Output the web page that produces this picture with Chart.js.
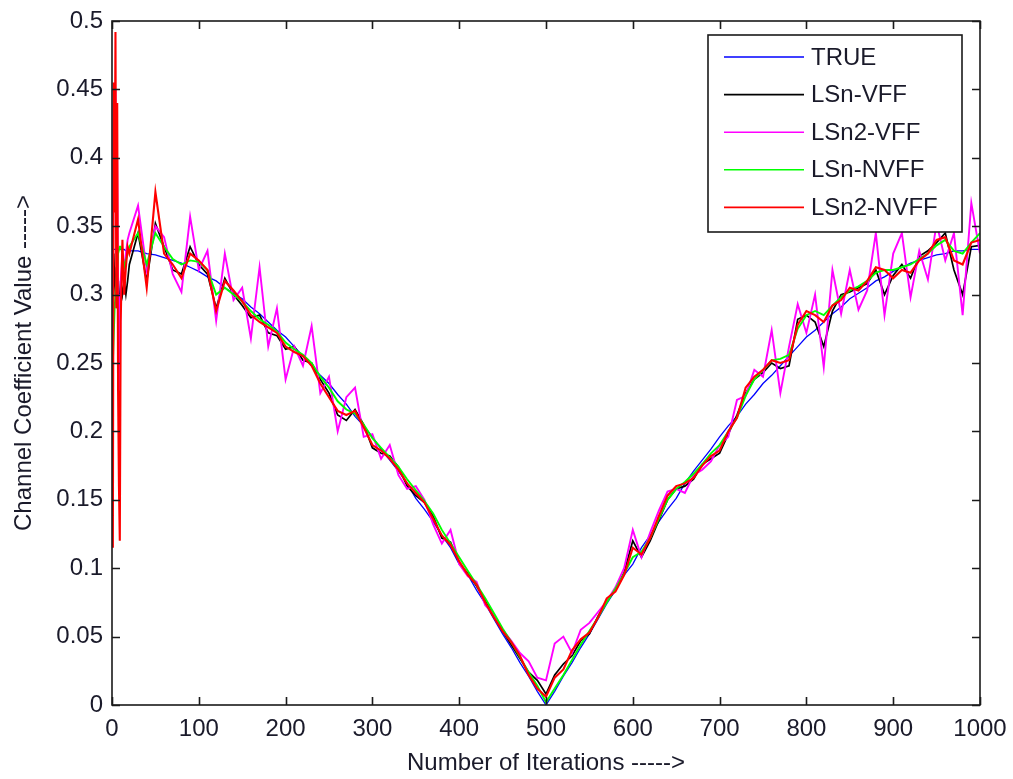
<!DOCTYPE html>
<html>
<head>
<meta charset="utf-8">
<script src="https://cdn.jsdelivr.net/npm/chart.js@4.4.1/dist/chart.umd.min.js"></script>
<style>
  html, body { margin: 0; padding: 0; background: #fff; }
  canvas { display: block; }
</style>
</head>
<body>
<canvas id="coefChart" width="1013" height="779"></canvas>
<script>
// Channel coefficient tracking - TRUE vs four estimators

// ============================================
// DATA
// ============================================

const iterations = [0, 1, 2, 3, 4, 5, 6, 7, 8, 9, 10, 12, 14, 16, 18,
    20, 30, 40, 50, 60, 70, 80, 90, 100,
    110, 120, 130, 140, 150, 160, 170, 180, 190, 200,
    210, 220, 230, 240, 250, 260, 270, 280, 290, 300,
    310, 320, 330, 340, 350, 360, 370, 380, 390, 400,
    410, 420, 430, 440, 450, 460, 470, 480, 490, 500,
    510, 520, 530, 540, 550, 560, 570, 580, 590, 600,
    610, 620, 630, 640, 650, 660, 670, 680, 690, 700,
    710, 720, 730, 740, 750, 760, 770, 780, 790, 800,
    810, 820, 830, 840, 850, 860, 870, 880, 890, 900,
    910, 920, 930, 940, 950, 960, 970, 980, 990, 1000];

const trueValues = [0.333, 0.333, 0.333, 0.333, 0.333, 0.333, 0.333, 0.333, 0.333, 0.333, 0.333, 0.333, 0.333, 0.332, 0.332,
    0.332, 0.332, 0.330, 0.329, 0.327, 0.325, 0.323, 0.320, 0.317,
    0.313, 0.310, 0.305, 0.301, 0.297, 0.291, 0.286, 0.280, 0.274, 0.269,
    0.262, 0.255, 0.248, 0.241, 0.235, 0.227, 0.220, 0.211, 0.204, 0.196,
    0.187, 0.179, 0.171, 0.162, 0.151, 0.143, 0.134, 0.124, 0.115, 0.103,
    0.095, 0.084, 0.074, 0.063, 0.052, 0.042, 0.031, 0.021, 0.010, 0.000,
    0.010, 0.021, 0.031, 0.042, 0.052, 0.063, 0.074, 0.084, 0.095, 0.103,
    0.115, 0.124, 0.134, 0.143, 0.151, 0.162, 0.171, 0.179, 0.187, 0.196,
    0.204, 0.211, 0.220, 0.227, 0.235, 0.241, 0.248, 0.255, 0.262, 0.269,
    0.274, 0.280, 0.286, 0.291, 0.297, 0.301, 0.305, 0.310, 0.313, 0.317,
    0.320, 0.323, 0.325, 0.327, 0.329, 0.330, 0.332, 0.332, 0.333, 0.333];

const lsnVff = [0.25, 0.29, 0.33, 0.31, 0.30, 0.32, 0.29, 0.30, 0.28, 0.30, 0.31, 0.30, 0.31, 0.30, 0.31,
    0.322, 0.345, 0.310, 0.352, 0.335, 0.318, 0.315, 0.335, 0.322,
    0.315, 0.290, 0.312, 0.300, 0.292, 0.283, 0.285, 0.272, 0.270, 0.260,
    0.262, 0.252, 0.250, 0.238, 0.228, 0.212, 0.208, 0.216, 0.205, 0.188,
    0.184, 0.182, 0.174, 0.160, 0.153, 0.148, 0.138, 0.122, 0.119, 0.104,
    0.096, 0.087, 0.076, 0.065, 0.054, 0.044, 0.034, 0.024, 0.018, 0.008,
    0.022, 0.030, 0.036, 0.047, 0.052, 0.065, 0.076, 0.084, 0.097, 0.120,
    0.108, 0.120, 0.135, 0.150, 0.158, 0.160, 0.165, 0.176, 0.180, 0.184,
    0.198, 0.212, 0.228, 0.238, 0.243, 0.250, 0.246, 0.248, 0.282, 0.285,
    0.280, 0.262, 0.288, 0.300, 0.302, 0.305, 0.308, 0.318, 0.300, 0.314,
    0.322, 0.312, 0.328, 0.332, 0.338, 0.345, 0.318, 0.300, 0.335, 0.336];

const lsn2Vff = [0.24, 0.30, 0.44, 0.38, 0.45, 0.33, 0.40, 0.30, 0.26, 0.23, 0.31, 0.33, 0.32, 0.33, 0.34,
    0.345, 0.365, 0.318, 0.350, 0.342, 0.315, 0.302, 0.357, 0.318,
    0.332, 0.281, 0.330, 0.296, 0.305, 0.268, 0.320, 0.262, 0.290, 0.238,
    0.262, 0.248, 0.277, 0.228, 0.240, 0.200, 0.225, 0.232, 0.196, 0.198,
    0.180, 0.190, 0.168, 0.158, 0.160, 0.150, 0.132, 0.118, 0.128, 0.103,
    0.094, 0.090, 0.073, 0.066, 0.055, 0.047, 0.038, 0.032, 0.020, 0.018,
    0.045, 0.050, 0.038, 0.055, 0.060, 0.068, 0.076, 0.086, 0.100, 0.128,
    0.108, 0.126, 0.142, 0.156, 0.158, 0.155, 0.168, 0.172, 0.178, 0.190,
    0.196, 0.223, 0.226, 0.245, 0.240, 0.274, 0.228, 0.262, 0.293, 0.272,
    0.300, 0.247, 0.318, 0.286, 0.318, 0.289, 0.303, 0.345, 0.285, 0.330,
    0.345, 0.298, 0.332, 0.311, 0.352, 0.325, 0.345, 0.285, 0.367, 0.330];

const lsnNvff = [0.23, 0.25, 0.27, 0.29, 0.30, 0.31, 0.32, 0.33, 0.33, 0.335, 0.335, 0.33, 0.32, 0.325, 0.33,
    0.335, 0.345, 0.322, 0.345, 0.335, 0.326, 0.322, 0.325, 0.324,
    0.318, 0.300, 0.305, 0.300, 0.295, 0.288, 0.282, 0.278, 0.273, 0.265,
    0.260, 0.256, 0.250, 0.240, 0.232, 0.222, 0.216, 0.213, 0.205, 0.195,
    0.188, 0.181, 0.174, 0.165, 0.157, 0.149, 0.140, 0.128, 0.118, 0.108,
    0.098, 0.088, 0.078, 0.067, 0.056, 0.046, 0.035, 0.024, 0.014, 0.002,
    0.012, 0.022, 0.033, 0.044, 0.054, 0.064, 0.075, 0.085, 0.096, 0.108,
    0.112, 0.122, 0.136, 0.150, 0.158, 0.163, 0.169, 0.176, 0.184, 0.190,
    0.200, 0.210, 0.226, 0.238, 0.245, 0.252, 0.253, 0.256, 0.275, 0.285,
    0.288, 0.285, 0.292, 0.298, 0.303, 0.306, 0.310, 0.316, 0.318, 0.318,
    0.320, 0.322, 0.326, 0.330, 0.336, 0.340, 0.332, 0.330, 0.338, 0.345];

const lsn2Nvff = [0.23, 0.115, 0.455, 0.36, 0.492, 0.29, 0.44, 0.23, 0.16, 0.12, 0.28, 0.34, 0.30, 0.32, 0.335,
    0.330, 0.355, 0.305, 0.375, 0.330, 0.322, 0.312, 0.330, 0.325,
    0.318, 0.288, 0.310, 0.303, 0.295, 0.285, 0.280, 0.276, 0.272, 0.262,
    0.258, 0.255, 0.248, 0.235, 0.225, 0.215, 0.212, 0.215, 0.203, 0.190,
    0.186, 0.180, 0.172, 0.162, 0.155, 0.148, 0.136, 0.124, 0.117, 0.105,
    0.095, 0.088, 0.075, 0.064, 0.054, 0.046, 0.036, 0.022, 0.012, 0.006,
    0.020, 0.026, 0.040, 0.048, 0.053, 0.064, 0.078, 0.083, 0.095, 0.115,
    0.110, 0.122, 0.138, 0.153, 0.160, 0.162, 0.166, 0.175, 0.182, 0.186,
    0.200, 0.210, 0.232, 0.240, 0.245, 0.252, 0.250, 0.252, 0.278, 0.288,
    0.285, 0.280, 0.292, 0.296, 0.305, 0.303, 0.310, 0.320, 0.318, 0.312,
    0.318, 0.316, 0.325, 0.330, 0.340, 0.342, 0.325, 0.322, 0.338, 0.340];

const seriesLabels = ['TRUE', 'LSn-VFF', 'LSn2-VFF', 'LSn-NVFF', 'LSn2-NVFF'];
const seriesColors = ['#0000ff', '#000000', '#ff00ff', '#00ff00', '#ff0000'];
const seriesWidths = [1.3, 1.7, 1.9, 1.9, 2.1];

const xTickLabels = ['0', '100', '200', '300', '400', '500', '600', '700', '800', '900', '1000'];
const yTickLabels = ['0', '0.05', '0.1', '0.15', '0.2', '0.25', '0.3', '0.35', '0.4', '0.45', '0.5'];

const FONT = '"Liberation Sans", Arial, sans-serif';

// ============================================
// HELPERS
// ============================================

function toPoints(values) {
    return values.map((v, i) => ({ x: iterations[i], y: v }));
}

// MATLAB-like frame: box, inward ticks on all four sides, legend box
const matlabFrame = {
    id: 'matlabFrame',
    afterDatasetsDraw(chart) {
        const ctx = chart.ctx;
        const area = chart.chartArea;
        const xs = chart.scales.x;
        const ys = chart.scales.y;
        const tickLen = 8;

        ctx.save();
        ctx.strokeStyle = '#1a1a1a';
        ctx.lineWidth = 1.6;
        ctx.strokeRect(area.left, area.top, area.right - area.left, area.bottom - area.top);

        ctx.beginPath();
        xs.ticks.forEach(t => {
            const px = Math.round(xs.getPixelForValue(t.value)) + 0.5;
            ctx.moveTo(px, area.bottom);
            ctx.lineTo(px, area.bottom - tickLen);
            ctx.moveTo(px, area.top);
            ctx.lineTo(px, area.top + tickLen);
        });
        ys.ticks.forEach(t => {
            const py = Math.round(ys.getPixelForValue(t.value)) + 0.5;
            ctx.moveTo(area.left, py);
            ctx.lineTo(area.left + tickLen, py);
            ctx.moveTo(area.right, py);
            ctx.lineTo(area.right - tickLen, py);
        });
        ctx.stroke();

        // legend box
        const box = { left: 708, top: 35, width: 254, height: 197 };
        ctx.fillStyle = '#ffffff';
        ctx.fillRect(box.left, box.top, box.width, box.height);
        ctx.strokeStyle = '#1a1a1a';
        ctx.lineWidth = 1.6;
        ctx.strokeRect(box.left, box.top, box.width, box.height);

        ctx.font = '24px ' + FONT;
        ctx.textBaseline = 'middle';
        ctx.textAlign = 'left';
        chart.data.datasets.forEach((ds, i) => {
            const y = 57 + i * 37.6;
            ctx.strokeStyle = ds.borderColor;
            ctx.lineWidth = 1.6;
            ctx.beginPath();
            ctx.moveTo(724, y);
            ctx.lineTo(804, y);
            ctx.stroke();
            ctx.fillStyle = '#1a1a2a';
            ctx.fillText(ds.label, 811, y + 1);
        });
        ctx.restore();
    }
};

// ============================================
// CHART
// ============================================

const valueSets = [trueValues, lsnVff, lsn2Vff, lsnNvff, lsn2Nvff];
const drawOrder = [5, 4, 3, 2, 1];

new Chart(document.getElementById('coefChart').getContext('2d'), {
    type: 'line',
    data: {
        datasets: valueSets.map((vals, i) => ({
            label: seriesLabels[i],
            data: toPoints(vals),
            borderColor: seriesColors[i],
            backgroundColor: seriesColors[i],
            borderWidth: seriesWidths[i],
            pointRadius: 0,
            tension: 0,
            fill: false,
            order: drawOrder[i]
        }))
    },
    options: {
        responsive: false,
        animation: false,
        layout: { padding: { top: 21, right: 33, left: 0, bottom: 0 } },
        plugins: {
            legend: { display: false },
            tooltip: { enabled: false }
        },
        scales: {
            x: {
                type: 'linear',
                min: 0,
                max: 1000,
                afterFit: s => { s.height = 74; s.paddingLeft = 0; s.paddingRight = 0; },
                grid: { display: false, drawTicks: false },
                border: { display: false },
                ticks: {
                    stepSize: 100,
                    padding: 10,
                    color: '#1a1a2a',
                    font: { family: FONT, size: 24 },
                    maxRotation: 0,
                    callback: (v, i) => xTickLabels[i]
                },
                title: {
                    display: true,
                    text: 'Number of Iterations ----->',
                    color: '#1a1a2a',
                    font: { family: FONT, size: 24 },
                    padding: { top: 0, bottom: 1 }
                }
            },
            y: {
                min: 0,
                max: 0.5,
                afterFit: s => { s.width = 112; s.paddingTop = 0; s.paddingBottom = 0; },
                grid: { display: false, drawTicks: false },
                border: { display: false },
                ticks: {
                    stepSize: 0.05,
                    padding: 9,
                    color: '#1a1a2a',
                    font: { family: FONT, size: 24 },
                    callback: (v, i) => yTickLabels[i]
                },
                title: {
                    display: true,
                    text: 'Channel Coefficient Value ----->',
                    color: '#1a1a2a',
                    font: { family: FONT, size: 24 },
                    padding: { top: 10, bottom: 0 }
                }
            }
        }
    },
    plugins: [matlabFrame]
});
</script>
</body>
</html>
